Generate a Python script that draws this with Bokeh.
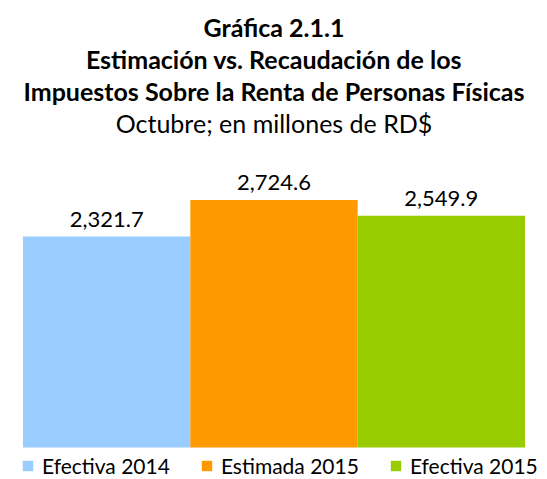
from bokeh.plotting import figure
from bokeh.models import ColumnDataSource, FactorRange, Range1d, Title, Legend, LegendItem
from bokeh.core.properties import value
from bokeh.embed import file_html
from bokeh.resources import INLINE

categories = ["Efectiva 2014", "Estimada 2015", "Efectiva 2015"]
values = [2321.7, 2724.6, 2549.9]
labels = ["2,321.7", "2,724.6", "2,549.9"]
colors = ["#99CCFF", "#FF9900", "#99CC00"]

FONT = "Lato"

src = ColumnDataSource(dict(cat=categories, val=values, lab=labels, col=colors))

p = figure(width=547, height=479, output_backend="svg", toolbar_location=None,
           x_range=FactorRange(factors=categories, range_padding=0.1345,
                               range_padding_units="absolute"),
           y_range=Range1d(-352, 3411),
           min_border_left=0, min_border_right=0, min_border_top=137, min_border_bottom=0)
p.xaxis.visible = False
p.yaxis.visible = False
p.xgrid.visible = False
p.ygrid.visible = False
p.outline_line_color = None

bars = p.vbar(x="cat", top="val", width=1.0, fill_color="col", line_color=None, source=src)
p.text(x="cat", y="val", text="lab", source=src, text_align="center", text_baseline="alphabetic",
       y_offset=-17, text_font_size="22px", text_color="#000000", text_font=value(FONT))

titles = [
    ("Octubre; en millones de RD$", "normal"),
    ("Impuestos Sobre la Renta de Personas Físicas", "bold"),
    ("Estimación vs. Recaudación de los", "bold"),
    ("Gráfica 2.1.1", "bold"),
]
for t, st in titles:
    p.add_layout(Title(text=t, align="center", text_font=FONT, text_font_size="25px",
                       text_font_style=st, text_color="#000000", standoff=0), "above")

items = [LegendItem(label=c, renderers=[bars], index=i) for i, c in enumerate(categories)]
leg = Legend(items=items, orientation="horizontal", location=(21, 1),
             label_text_font=FONT, label_text_font_size="21px", label_text_color="#000000",
             glyph_width=13, glyph_height=13, spacing=30, padding=0, margin=0,
             label_standoff=8, border_line_color=None, background_fill_alpha=0)
p.add_layout(leg, "center")

open("out.html", "w").write(file_html(p, INLINE))
